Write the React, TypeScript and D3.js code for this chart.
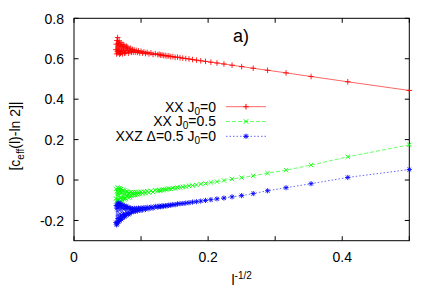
import React from "react";
import * as d3 from "d3";

// chain length l, x axis shows l^-1/2
const sizes = [
  4, 6, 8, 10, 12, 14, 16, 18, 20, 22, 24, 26, 28, 30, 32, 34, 36, 38, 40,
  42, 44, 46, 48, 50, 52, 54, 56, 58, 60, 62, 64,
  68, 72, 76, 80, 84, 88, 92, 96, 100, 104, 108, 112, 116, 120, 124, 128,
  132, 136, 140, 144, 148, 152, 156, 160, 164, 168, 172, 176, 180, 184, 188, 192,
  196, 200, 204, 208, 212, 216, 220, 224, 228, 232, 236, 240, 244, 248, 252, 256,
];

const xxJ0 = [
  0.443, 0.486, 0.512, 0.53, 0.543, 0.553, 0.561, 0.568, 0.574, 0.579, 0.583, 0.587, 0.59, 0.593, 0.596, 0.599, 0.601, 0.603, 0.605,
  0.608, 0.607, 0.611, 0.61, 0.614, 0.613, 0.616, 0.616, 0.619, 0.618, 0.622, 0.62,
  0.625, 0.621, 0.629, 0.624, 0.631, 0.626, 0.634, 0.628, 0.637, 0.629, 0.639, 0.631, 0.641, 0.632, 0.643, 0.633,
  0.646, 0.632, 0.652, 0.636, 0.648, 0.628, 0.657, 0.639, 0.662, 0.63, 0.654, 0.627, 0.667, 0.641, 0.671, 0.624,
  0.66, 0.633, 0.679, 0.627, 0.668, 0.622, 0.688, 0.64, 0.675, 0.628, 0.705, 0.637, 0.69, 0.624, 0.672, 0.645,
];

const xxJ05 = [
  0.174, 0.115, 0.074, 0.049, 0.034, 0.021, 0.012, 0.005, -0.002, -0.008, -0.012, -0.017, -0.02, -0.024, -0.027, -0.029, -0.032, -0.034, -0.036,
  -0.037, -0.041, -0.04, -0.044, -0.043, -0.046, -0.046, -0.049, -0.048, -0.051, -0.05, -0.053,
  -0.05, -0.059, -0.053, -0.062, -0.055, -0.065, -0.057, -0.067, -0.058, -0.07, -0.059, -0.072, -0.06, -0.075, -0.061, -0.076,
  -0.062, -0.078, -0.06, -0.083, -0.064, -0.088, -0.058, -0.079, -0.055, -0.092, -0.066, -0.096, -0.052, -0.085, -0.048, -0.1,
  -0.062, -0.105, -0.045, -0.09, -0.04, -0.108, -0.058, -0.112, -0.042, -0.098, -0.036, -0.115, -0.055, -0.104, -0.044, -0.092,
];

const xxzJ0 = [
  0.052, 0.013, -0.018, -0.038, -0.053, -0.067, -0.077, -0.083, -0.089, -0.093, -0.097, -0.101, -0.104, -0.107, -0.109, -0.112, -0.114, -0.116, -0.117,
  -0.118, -0.122, -0.121, -0.125, -0.124, -0.128, -0.126, -0.13, -0.128, -0.132, -0.129, -0.134,
  -0.13, -0.139, -0.133, -0.142, -0.135, -0.145, -0.136, -0.148, -0.138, -0.15, -0.139, -0.152, -0.14, -0.155, -0.14, -0.157,
  -0.142, -0.158, -0.138, -0.165, -0.14, -0.17, -0.134, -0.162, -0.13, -0.176, -0.14, -0.182, -0.128, -0.17, -0.124, -0.188,
  -0.138, -0.194, -0.12, -0.178, -0.116, -0.2, -0.132, -0.206, -0.114, -0.19, -0.118, -0.214, -0.14, -0.222, -0.126, -0.21,
];

const xTicks = [0, 0.1, 0.2, 0.3, 0.4, 0.5];
const xTickLabels = ["0", "", "0.2", "", "0.4", ""];
const yTicks = [-0.2, 0, 0.2, 0.4, 0.6, 0.8];
const yTickLabels = ["-0.2", "0", "0.2", "0.4", "0.6", "0.8"];

const legendMain = ["XX J", "XX J", "XXZ \u0394=0.5 J"];
const legendTail = ["=0", "=0.5", "=0"];

const width = 436;
const height = 305;
const margin = { left: 74, right: 26.7, top: 18.3, bottom: 64.3 };
const font = "'Liberation Sans', Arial, Helvetica, sans-serif";

// gnuplot style point types: 1 = plus, 2 = cross, 3 = star
function marker(kind: string, h: number) {
  const p = d3.path();
  if (kind === "plus" || kind === "star") {
    p.moveTo(-h, 0); p.lineTo(h, 0);
    p.moveTo(0, -h); p.lineTo(0, h);
  }
  if (kind === "cross" || kind === "star") {
    const c = kind === "star" ? h * 0.75 : h;
    p.moveTo(-c, -c); p.lineTo(c, c);
    p.moveTo(-c, c); p.lineTo(c, -c);
  }
  return p.toString();
}

export default function App() {
  const xScale = d3.scaleLinear().domain([0, 0.5]).range([margin.left, width - margin.right]);
  const yScale = d3.scaleLinear().domain([-0.3, 0.8]).range([height - margin.bottom, margin.top]);

  const series = [
    { values: xxJ0, color: "#ff0000", dash: "none", kind: "plus", h: 2.8 },
    { values: xxJ05, color: "#00ff00", dash: "4,2", kind: "cross", h: 2.2 },
    { values: xxzJ0, color: "#0000ff", dash: "1.5,2", kind: "star", h: 2.6 },
  ];

  const line = d3
    .line<[number, number]>()
    .x((d) => xScale(d[0]))
    .y((d) => yScale(d[1]));

  const x0 = xScale(0);
  const x1 = xScale(0.5);
  const y0 = yScale(-0.3);
  const y1 = yScale(0.8);
  const tickLen = 4.5;

  return (
    <svg
      width={width}
      height={height}
      style={{ position: "absolute", left: 0, top: 0, background: "#fff" }}
      fontFamily={font}
    >
      {/* frame */}
      <rect x={x0} y={y1} width={x1 - x0} height={y0 - y1} fill="none" stroke="#000" strokeWidth={1} />

      {/* x ticks */}
      {xTicks.map((t, i) => (
        <g key={"xt" + i}>
          <line x1={xScale(t)} x2={xScale(t)} y1={y0} y2={y0 - tickLen} stroke="#000" />
          <line x1={xScale(t)} x2={xScale(t)} y1={y1} y2={y1 + tickLen} stroke="#000" />
          <text x={xScale(t)} y={y0 + 21} textAnchor="middle" fontSize={14}>
            {xTickLabels[i]}
          </text>
        </g>
      ))}

      {/* y ticks */}
      {yTicks.map((t, i) => (
        <g key={"yt" + i}>
          <line x1={x0} x2={x0 + tickLen} y1={yScale(t)} y2={yScale(t)} stroke="#000" />
          <line x1={x1} x2={x1 - tickLen} y1={yScale(t)} y2={yScale(t)} stroke="#000" />
          <text x={x0 - 10} y={yScale(t) + 5.3} textAnchor="end" fontSize={14}>
            {yTickLabels[i]}
          </text>
        </g>
      ))}

      {/* data */}
      {series.map((s, si) => {
        const pts = sizes.map((l, i) => [1 / Math.sqrt(l), s.values[i]] as [number, number]);
        const sym = marker(s.kind, s.h);
        return (
          <g key={"s" + si}>
            <path d={line(pts) || ""} fill="none" stroke={s.color} strokeWidth={1} strokeOpacity={0.6} strokeDasharray={s.dash} />
            {pts.map((p, i) => (
              <path
                key={i}
                d={sym}
                transform={`translate(${xScale(p[0])},${yScale(p[1])})`}
                fill="none"
                stroke={s.color}
                strokeWidth={1}
                strokeOpacity={0.85}
              />
            ))}
          </g>
        );
      })}

      {/* legend */}
      {series.map((s, si) => {
        const ly = 106.7 + si * 14.8;
        return (
          <g key={"lg" + si}>
            <text x={216} y={ly + 4.8} textAnchor="end" fontSize={14}>
              {legendMain[si]}
              <tspan dy={3} fontSize={10}>0</tspan>
              <tspan dy={-3}>{legendTail[si]}</tspan>
            </text>
            <line x1={226} x2={266} y1={ly} y2={ly} stroke={s.color} strokeOpacity={0.6} strokeDasharray={s.dash} />
            <path d={marker(s.kind, s.h)} transform={`translate(246,${ly})`} fill="none" stroke={s.color} />
          </g>
        );
      })}

      {/* panel label */}
      <text x={233} y={42} fontSize={18}>a)</text>

      {/* axis labels */}
      <text x={(x0 + x1) / 2} y={285} textAnchor="middle" fontSize={14}>
        l<tspan dy={-6} fontSize={10}>-1/2</tspan>
      </text>
      <text transform={`translate(20,136) rotate(-90)`} textAnchor="middle" fontSize={14}>
        [c<tspan dy={4} fontSize={10}>eff</tspan>
        <tspan dy={-4}>(l)-ln 2]|</tspan>
      </text>
    </svg>
  );
}
